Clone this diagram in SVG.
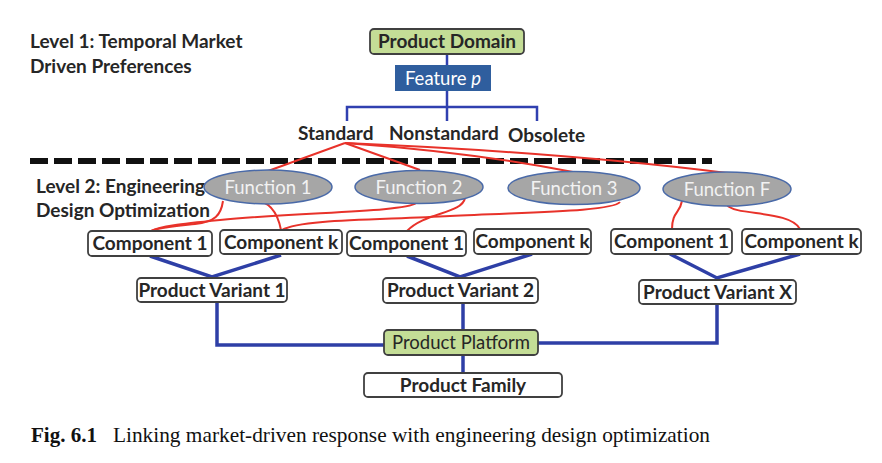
<svg xmlns="http://www.w3.org/2000/svg" width="882" height="463" viewBox="0 0 882 463">
<style>
  .lbl{font-family:Lato,"Noto Sans",sans-serif;font-weight:bold;font-size:19px;fill:#262626}
  .bx{font-family:Lato,"Noto Sans",sans-serif;font-weight:bold;font-size:19px;fill:#262626;text-anchor:middle}
  .fn{font-family:Lato,"Noto Sans",sans-serif;font-size:18.5px;fill:#f2f2f2;text-anchor:middle}
  .wbox{fill:#ffffff;stroke:#404040;stroke-width:1.8}
  .gbox{fill:#c4dd96;stroke:#404040;stroke-width:1.8}
  .ell{fill:#a6a6a6;stroke:#4a6aa8;stroke-width:1.5}
  .blue{fill:none;stroke:#2e3fa6;stroke-width:3.5;stroke-linejoin:miter}
  .blue1{fill:none;stroke:#3040b0;stroke-width:2.5}
  .red{fill:none;stroke:#e8322a;stroke-width:2}
  .cap{font-family:"Liberation Serif",serif;font-size:21px;fill:#111}
</style>

<g id="level-labels">
  <text class="lbl" x="30" y="48">Level 1: Temporal Market</text>
  <text class="lbl" x="30" y="73">Driven Preferences</text>
  <text class="lbl" x="36" y="193">Level 2: Engineering</text>
  <text class="lbl" x="36" y="217">Design Optimization</text>
</g>

<g id="divider">
  <line x1="30" y1="161" x2="712" y2="161" stroke="#111" stroke-width="6" stroke-dasharray="18 6"/>
</g>

<g id="connectors">
  <path class="blue1" d="M447,54 V65 M447,91 V121 M347,121 V107 H537 V121"/>
  <path class="blue" d="M150,256 L212,277 L281,255"/>
  <path class="blue" d="M407,256 L460,277 L532,254"/>
  <path class="blue" d="M670,254 L717,278 L800,254"/>
  <path class="blue" d="M217,302 V345 H384"/>
  <path class="blue" d="M463,303 V330"/>
  <path class="blue" d="M717,304 V343 H538"/>
  <path class="blue" d="M463,355 V373"/>
  <path class="red" d="M345,143 L268,171"/>
  <path class="red" d="M345,143 L420,170"/>
  <path class="red" d="M345,143 Q470,152 573,172"/>
  <path class="red" d="M345,143 Q560,152 727,173"/>
  <path class="red" d="M223,201 C221,215 215,222 195,224 C175,226 160,227 151,231"/>
  <path class="red" d="M252,200 C268,200 277,210 281,230"/>
  <path class="red" d="M416,203 C405,212 300,212 220,220 C180,224 160,226 151,231"/>
  <path class="red" d="M620,202 C612,212 520,212 450,216 C380,220 300,219 282,230"/>
  <path class="red" d="M465,198 C462,214 425,212 407,231"/>
  <path class="red" d="M682,201 C680,213 672,212 672,229"/>
  <path class="red" d="M727,205 C735,216 790,210 800,229"/>
</g>

<g id="product-domain">
  <rect class="gbox" x="370" y="29" width="154" height="25" rx="4"/>
  <text class="bx" x="447" y="48">Product Domain</text>
</g>
<g id="feature-p">
  <rect x="395" y="65" width="96" height="26" fill="#2f5e9e"/>
  <text x="443" y="85" text-anchor="middle" font-family="Lato,'Noto Sans',sans-serif" font-size="18.5" fill="#ffffff">Feature <tspan font-style="italic">p</tspan></text>
</g>
<g id="standard"><text class="lbl" x="298" y="140">Standard</text></g>
<g id="nonstandard"><text class="lbl" x="389" y="140">Nonstandard</text></g>
<g id="obsolete"><text class="lbl" x="508" y="142">Obsolete</text></g>

<g id="function-1">
  <ellipse class="ell" cx="268" cy="187" rx="64" ry="17"/>
  <text class="fn" x="268" y="194">Function 1</text>
</g>
<g id="function-2">
  <ellipse class="ell" cx="419" cy="187" rx="64" ry="16.5"/>
  <text class="fn" x="419" y="194">Function 2</text>
</g>
<g id="function-3">
  <ellipse class="ell" cx="574" cy="188" rx="66" ry="16.5"/>
  <text class="fn" x="574" y="195">Function 3</text>
</g>
<g id="function-f">
  <ellipse class="ell" cx="727" cy="189" rx="64" ry="17"/>
  <text class="fn" x="727" y="196">Function F</text>
</g>

<g id="component-1-a">
  <rect class="wbox" x="88" y="231" width="124" height="25" rx="4"/>
  <text class="bx" x="150" y="250">Component 1</text>
</g>
<g id="component-k-a">
  <rect class="wbox" x="220" y="230" width="122" height="24" rx="4"/>
  <text class="bx" x="281" y="249">Component k</text>
</g>
<g id="component-1-b">
  <rect class="wbox" x="347" y="231" width="119" height="25" rx="4"/>
  <text class="bx" x="406.5" y="250">Component 1</text>
</g>
<g id="component-k-b">
  <rect class="wbox" x="474" y="229" width="117" height="25" rx="4"/>
  <text class="bx" x="532.5" y="248">Component k</text>
</g>
<g id="component-1-c">
  <rect class="wbox" x="611" y="229" width="121" height="25" rx="4"/>
  <text class="bx" x="671.5" y="248">Component 1</text>
</g>
<g id="component-k-c">
  <rect class="wbox" x="742" y="229" width="119" height="25" rx="4"/>
  <text class="bx" x="801.5" y="248">Component k</text>
</g>

<g id="product-variant-1">
  <rect class="wbox" x="137" y="278" width="150" height="24" rx="4"/>
  <text class="bx" x="212" y="297">Product Variant 1</text>
</g>
<g id="product-variant-2">
  <rect class="wbox" x="383" y="278" width="155" height="25" rx="4"/>
  <text class="bx" x="460.5" y="297">Product Variant 2</text>
</g>
<g id="product-variant-x">
  <rect class="wbox" x="639" y="280" width="157" height="24" rx="4"/>
  <text class="bx" x="717.5" y="299">Product Variant X</text>
</g>

<g id="product-platform">
  <rect class="gbox" x="384" y="330" width="154" height="25" rx="4"/>
  <text x="461" y="349" text-anchor="middle" font-family="Lato,'Noto Sans',sans-serif" font-size="18.5" fill="#262626">Product Platform</text>
</g>
<g id="product-family">
  <rect class="wbox" x="364" y="373" width="198" height="24" rx="4"/>
  <text class="bx" x="463" y="392">Product Family</text>
</g>

<g id="caption">
  <text class="cap" x="31" y="442" font-weight="bold">Fig. 6.1</text>
  <text class="cap" x="113" y="442" textLength="597" lengthAdjust="spacingAndGlyphs">Linking market-driven response with engineering design optimization</text>
</g>
</svg>
